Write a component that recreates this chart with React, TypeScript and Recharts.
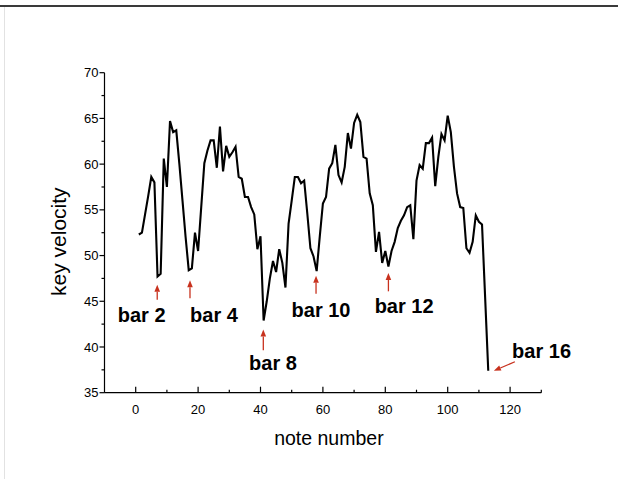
import { ComposedChart, Line, Scatter, XAxis, YAxis, Label } from "recharts"

// key velocity per note (notes 1..113)
const keyVelocity = [
    52.3, 52.5, 54.5, 56.5, 58.6, 58.0, 47.7, 48.0, 60.6, 57.5,
    64.7, 63.5, 63.7, 60.0, 56.0, 52.0, 48.4, 48.6, 52.5, 50.5,
    55.3, 60.1, 61.5, 62.6, 62.6, 59.6, 64.1, 59.2, 62.0, 60.8,
    61.3, 61.9, 58.6, 58.4, 56.4, 56.4, 55.3, 54.5, 50.7, 52.1,
    42.9, 45.0, 47.5, 49.4, 48.2, 50.7, 49.2, 46.5, 53.5, 56.0,
    58.6, 58.6, 57.9, 58.2, 54.6, 50.8, 49.9, 48.3, 52.1, 55.7,
    56.4, 59.5, 60.1, 62.1, 58.8, 58.0, 59.7, 63.4, 61.7, 64.5,
    65.4, 64.6, 60.8, 60.6, 56.8, 55.5, 50.4, 52.6, 49.2, 50.5,
    48.8, 50.5, 51.5, 53.0, 53.8, 54.4, 55.3, 55.5, 51.8, 58.2,
    59.9, 59.5, 62.3, 62.3, 62.9, 57.6, 60.8, 63.3, 62.6, 65.3,
    63.5, 59.7, 56.8, 55.3, 55.2, 50.8, 50.3, 51.5, 54.4, 53.7,
    53.4, 45.4, 37.4,
]

const xTicks = [0, 10, 20, 30, 40, 50, 60, 70, 80, 90, 100, 110, 120, 130]
const yTicks = [35, 37.5, 40, 42.5, 45, 47.5, 50, 52.5, 55, 57.5, 60, 62.5, 65, 67.5, 70]

// annotations: label and where the arrow points
const barLabels = ["bar 2", "bar 4", "bar 8", "bar 10", "bar 12", "bar 16"]
const arrowNotes = [6.9, 17.4, 40.9, 57.8, 81.0, 114.8]
const arrowVelocity = [46.8, 47.3, 41.9, 47.8, 48.1, 37.4]

const data = keyVelocity.map((v, i) => ({ note: i + 1, velocity: v }))
const marks = barLabels.map((label, i) => ({ note: arrowNotes[i], velocity: arrowVelocity[i], label }))

const FONT = "'Liberation Sans', Arial, sans-serif"
const RED = "#c8321e"

// pixel offsets from arrow tip: tail of arrow, centre/baseline of text
const markStyle: Record<string, { tail: [number, number]; text: [number, number] }> = {
    "bar 2": { tail: [0, 15], text: [-15.6, 37] },
    "bar 4": { tail: [0, 18], text: [24, 42] },
    "bar 8": { tail: [0, 20.7], text: [9.7, 40.7] },
    "bar 10": { tail: [0, 18], text: [5, 41] },
    "bar 12": { tail: [0, 18.4], text: [15.7, 39.7] },
    "bar 16": { tail: [21, -9], text: [47.7, -12.7] },
}

function BarArrow(props: any) {
    const { cx, cy, payload } = props
    const s = markStyle[payload.label]
    const [tx, ty] = s.tail
    const len = Math.hypot(tx, ty)
    const ux = -tx / len
    const uy = -ty / len
    const head = 7
    const half = 2.8
    const bx = cx - ux * head
    const by = cy - uy * head
    const px = -uy
    const py = ux
    return (
        <g>
            <line x1={cx + tx} y1={cy + ty} x2={bx} y2={by} stroke={RED} strokeWidth={1.3} />
            <polygon
                points={`${cx},${cy} ${bx + px * half},${by + py * half} ${bx - px * half},${by - py * half}`}
                fill={RED}
            />
            <text
                x={cx + s.text[0]}
                y={cy + s.text[1]}
                textAnchor="middle"
                fontFamily={FONT}
                fontWeight="bold"
                fontSize={20}
                fill="#000"
            >
                {payload.label}
            </text>
        </g>
    )
}

function XTick(props: any) {
    const { x, y, payload } = props
    const v = payload.value
    const major = v % 20 === 0
    return (
        <g>
            <line x1={x} x2={x} y1={y} y2={y - (major ? 6 : 3)} stroke="#000" strokeWidth={1.2} />
            {major && v <= 120 && (
                <text x={x} y={y + 21} textAnchor="middle" fontFamily={FONT} fontSize={13} fill="#000">
                    {v}
                </text>
            )}
        </g>
    )
}

function YTick(props: any) {
    const { x, y, payload } = props
    const v = payload.value
    const major = v % 5 === 0
    return (
        <g>
            <line x1={x} x2={x - (major ? 5 : 3)} y1={y} y2={y} stroke="#000" strokeWidth={1.2} />
            {major && (
                <text x={x - 6} y={y + 4.6} textAnchor="end" fontFamily={FONT} fontSize={13} fill="#000">
                    {v}
                </text>
            )}
        </g>
    )
}

function YTitle(props: any) {
    const { viewBox } = props
    const x = viewBox.x + 22
    const y = viewBox.y + viewBox.height / 2 + 9
    return (
        <text x={x} y={y} transform={`rotate(-90 ${x} ${y})`} textAnchor="middle" fontFamily={FONT} fontSize={21} fill="#000">
            key velocity
        </text>
    )
}

function XTitle(props: any) {
    const { viewBox } = props
    return (
        <text x={viewBox.x + viewBox.width / 2 + 6} y={viewBox.y + 52} textAnchor="middle" fontFamily={FONT} fontSize={19.5} fill="#000">
            note number
        </text>
    )
}

export default function App() {
    return (
        <div style={{ position: "absolute", left: 0, top: 0, width: 618, height: 479, background: "#fff" }}>
            <div style={{ position: "absolute", left: 0, top: 5, width: 618, height: 2, background: "#3a3a3a" }} />
            <div style={{ position: "absolute", left: 4, top: 7, width: 1, height: 472, background: "#e2e2e2" }} />
            <ComposedChart
                width={618}
                height={479}
                data={data}
                margin={{ top: 72.7, right: 76.7, bottom: 26.3, left: 44.5 }}
            >
                <XAxis
                    dataKey="note"
                    type="number"
                    domain={[-10, 130]}
                    ticks={xTicks}
                    interval={0}
                    height={60}
                    tickSize={0}
                    tickMargin={0}
                    tickLine={false}
                    tick={<XTick />}
                    stroke="#000"
                    strokeWidth={1.2}
                >
                    <Label content={<XTitle />} />
                </XAxis>
                <YAxis
                    type="number"
                    domain={[35, 70]}
                    ticks={yTicks}
                    interval={0}
                    width={60}
                    tickSize={0}
                    tickMargin={0}
                    tickLine={false}
                    tick={<YTick />}
                    stroke="#000"
                    strokeWidth={1.2}
                >
                    <Label content={<YTitle />} />
                </YAxis>
                <Line
                    type="linear"
                    dataKey="velocity"
                    stroke="#000"
                    strokeWidth={2.1}
                    dot={false}
                    activeDot={false}
                    isAnimationActive={false}
                />
                <Scatter data={marks} dataKey="velocity" shape={<BarArrow />} isAnimationActive={false} />
            </ComposedChart>
        </div>
    )
}
